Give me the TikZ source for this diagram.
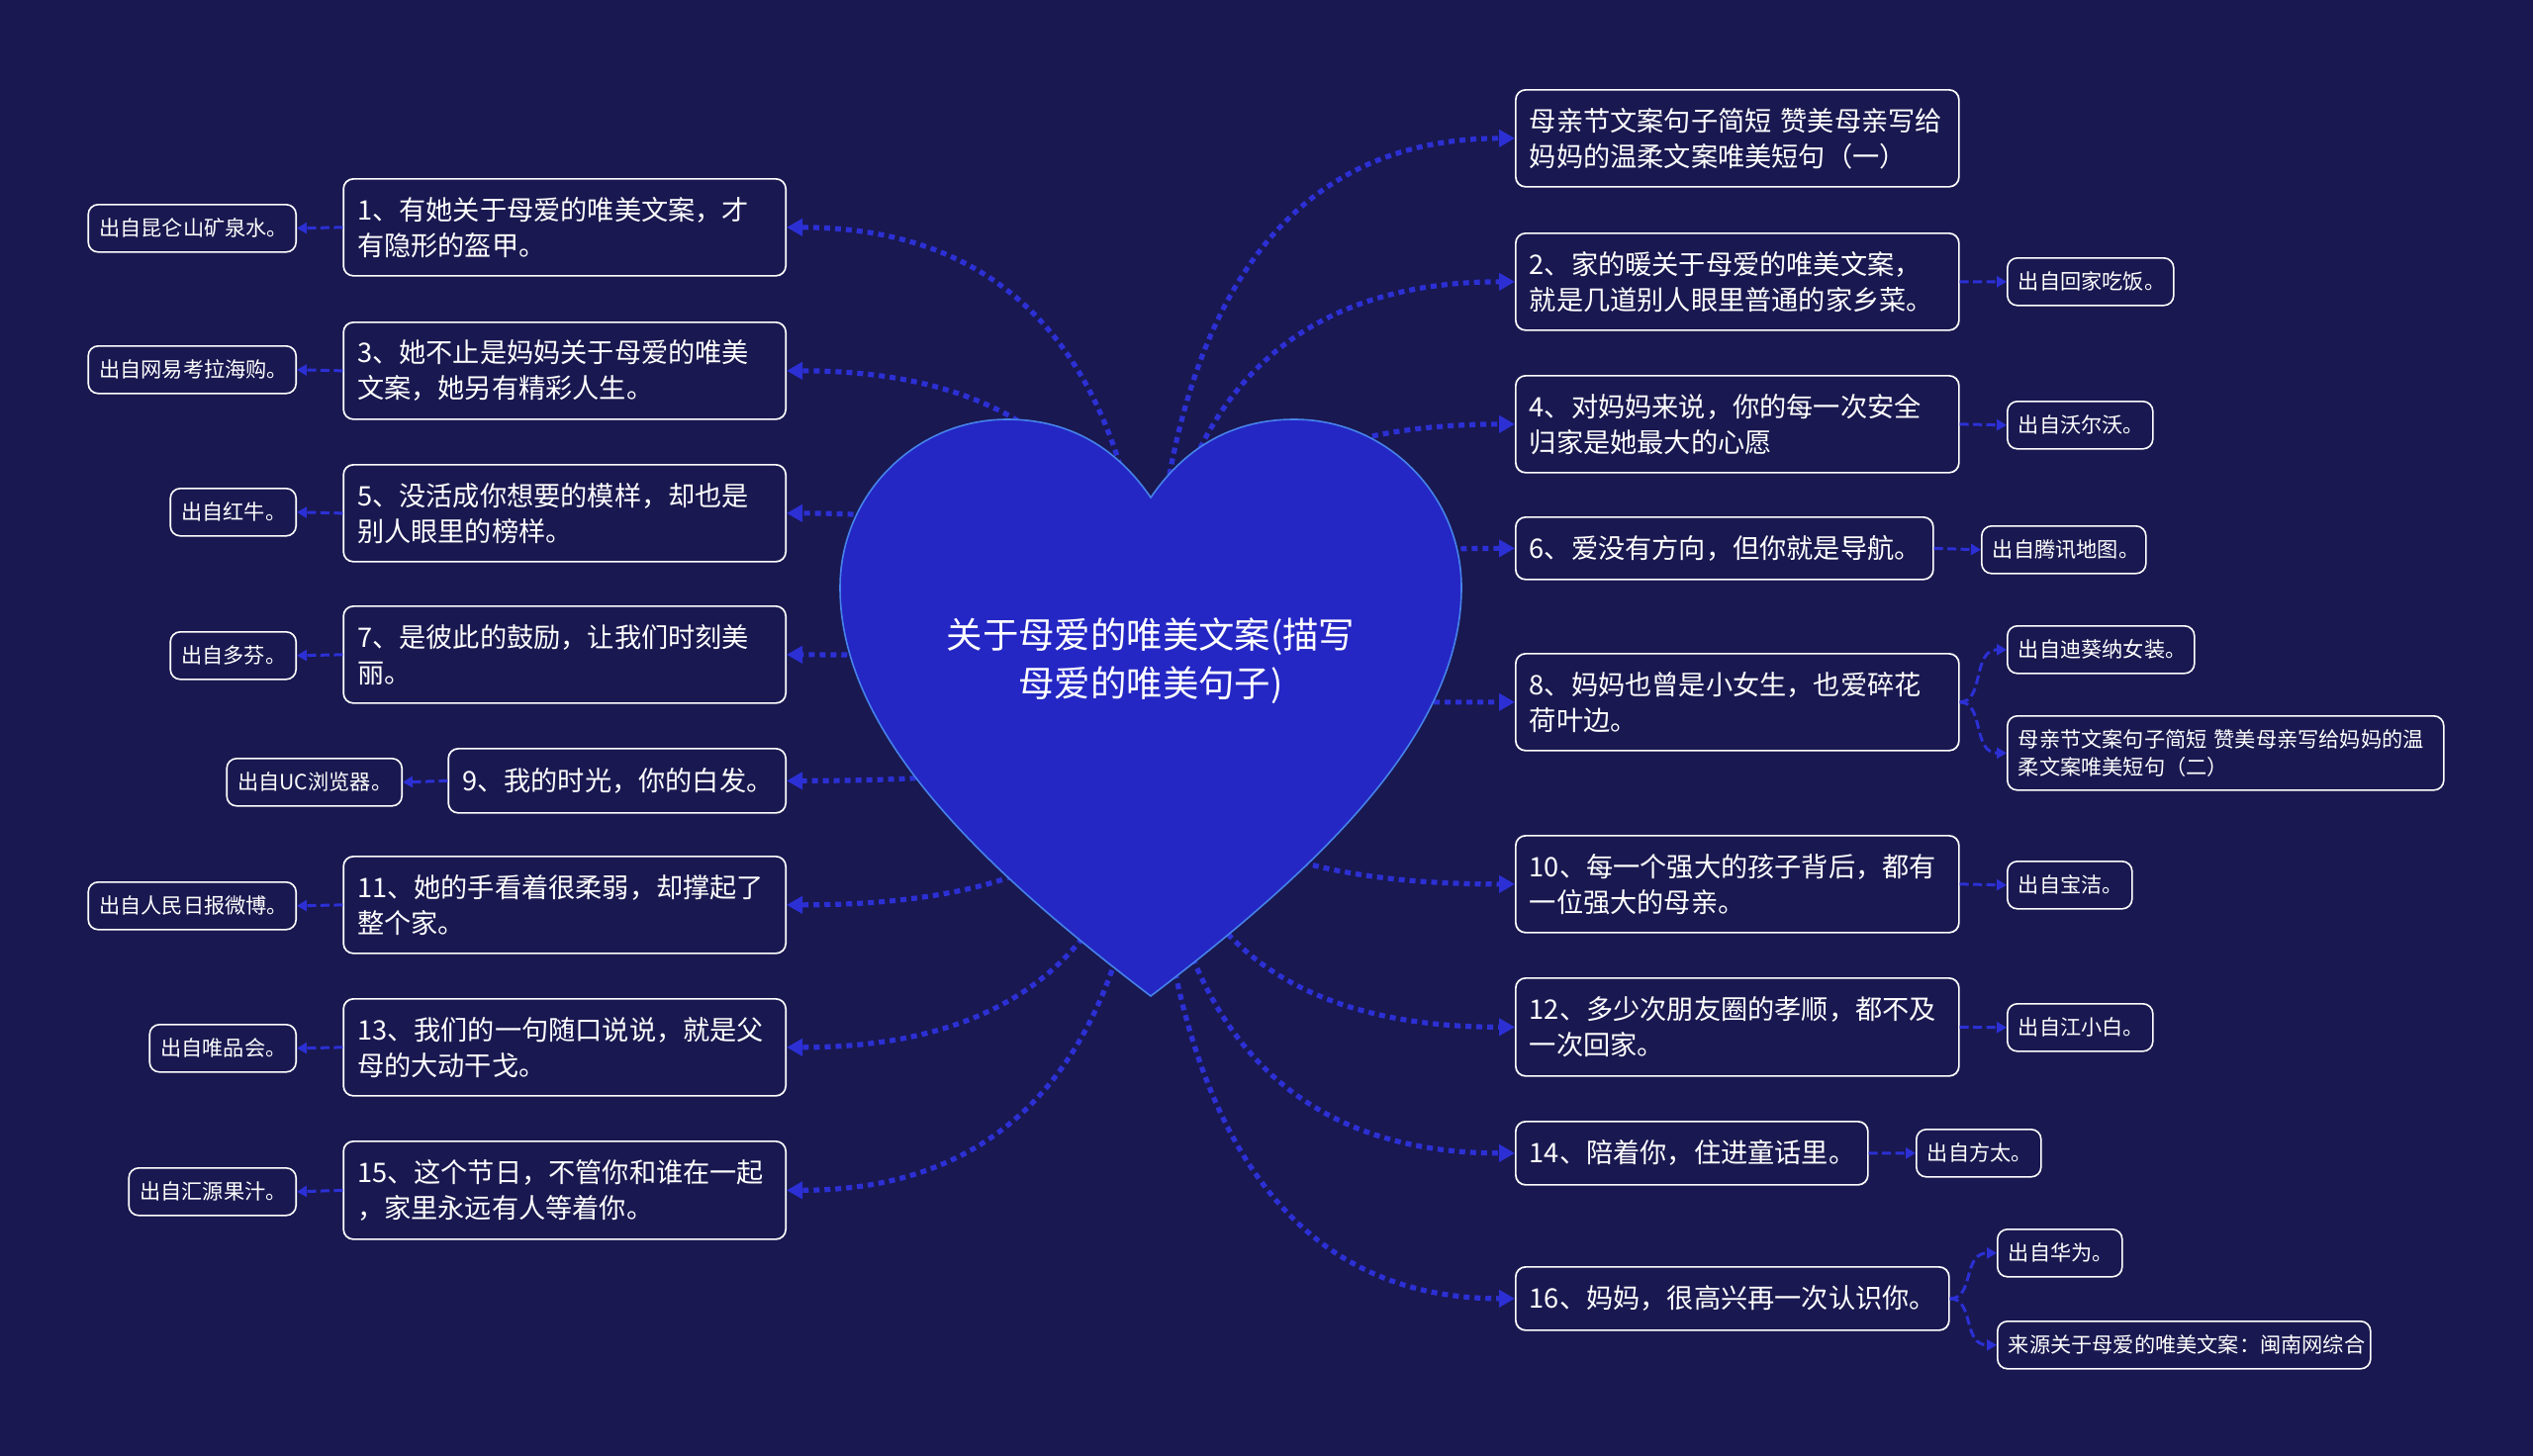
\documentclass[tikz,border=0pt]{standalone}
\usepackage{fontspec}
\newfontfamily\cjk{Noto Sans CJK SC}
\usetikzlibrary{calc,arrows.meta}
\definecolor{bgc}{RGB}{25,24,80}
\definecolor{heartc}{RGB}{36,39,196}
\definecolor{heartedge}{RGB}{70,130,235}
\definecolor{linkc}{RGB}{44,48,212}
\tikzset{
 mainbox/.style={draw=white, line width=0.85pt, rounded corners=5pt, fill=bgc, text=white,
   font=\cjk\fontsize{13.6pt}{18pt}\selectfont, align=left, inner xsep=7pt, inner ysep=0pt, minimum height=49pt},
 onebox/.style={mainbox, minimum height=32pt},
 srcbox/.style={draw=white, line width=0.8pt, rounded corners=5pt, fill=bgc, text=white,
   font=\cjk\fontsize{10.6pt}{14pt}\selectfont, align=left, inner xsep=5.5pt, inner ysep=0pt, minimum height=24pt},
 mainlink/.style={draw=linkc, line width=2.6pt, dash pattern=on 3pt off 2.5pt, -{Triangle[length=8pt,width=8.5pt]}},
 srclink/.style={draw=linkc, line width=1.5pt, dash pattern=on 4.5pt off 2.2pt, -{Triangle[length=5pt,width=5.5pt]}},
 roottext/.style={text=white, font=\cjk\fontsize{18.2pt}{24.5pt}\selectfont, align=center, inner sep=0pt}
}
\newcommand\heartlink[2]{%
  \coordinate (#2) at (hc |- #1);
  \draw[mainlink] (hc) .. controls ($(hc)!0.6667!(#2)$) and ($(#1)!0.6667!(#2)$) .. (#1);}
\begin{document}
\begin{tikzpicture}[x=0.5pt,y=-0.5pt]
\fill[bgc] (0,0) rectangle (2560,1472);
\useasboundingbox (0,0) rectangle (2560,1472);
\coordinate (hc) at (1163,710);

% left main boxes
\node[mainbox, text width=209.5pt, anchor=north east] (L1) at (795,180) {1、有她关于母爱的唯美文案，才\\有隐形的盔甲。};
\node[mainbox, text width=209.5pt, anchor=north east] (L3) at (795,325) {3、她不止是妈妈关于母爱的唯美\\文案，她另有精彩人生。};
\node[mainbox, text width=209.5pt, anchor=north east] (L5) at (795,469) {5、没活成你想要的模样，却也是\\别人眼里的榜样。};
\node[mainbox, text width=209.5pt, anchor=north east] (L7) at (795,612) {7、是彼此的鼓励，让我们时刻美\\丽。};
\node[onebox, text width=156.5pt, anchor=north east, minimum height=32.5pt] (L9) at (795,756) {9、我的时光，你的白发。};
\node[mainbox, text width=209.5pt, anchor=north east] (L11) at (795,865) {11、她的手看着很柔弱，却撑起了\\整个家。};
\node[mainbox, text width=209.5pt, anchor=north east] (L13) at (795,1009) {13、我们的一句随口说说，就是父\\母的大动干戈。};
\node[mainbox, text width=209.5pt, anchor=north east, minimum height=49.5pt] (L15) at (795,1153) {15、这个节日，不管你和谁在一起\\，家里永远有人等着你。};

% right main boxes
\node[mainbox, text width=210pt, anchor=north west] (R1) at (1531,90) {母亲节文案句子简短 赞美母亲写给\\妈妈的温柔文案唯美短句（一）};
\node[mainbox, text width=210pt, anchor=north west] (R2) at (1531,235) {2、家的暖关于母爱的唯美文案，\\就是几道别人眼里普通的家乡菜。};
\node[mainbox, text width=210pt, anchor=north west] (R4) at (1531,379) {4、对妈妈来说，你的每一次安全\\归家是她最大的心愿};
\node[onebox, text width=197pt, anchor=north west, minimum height=31.5pt] (R6) at (1531,522) {6、爱没有方向，但你就是导航。};
\node[mainbox, text width=210pt, anchor=north west] (R8) at (1531,660) {8、妈妈也曾是小女生，也爱碎花\\荷叶边。};
\node[mainbox, text width=210pt, anchor=north west] (R10) at (1531,844) {10、每一个强大的孩子背后，都有\\一位强大的母亲。};
\node[mainbox, text width=210pt, anchor=north west, minimum height=49.5pt] (R12) at (1531,988) {12、多少次朋友圈的孝顺，都不及\\一次回家。};
\node[onebox, text width=164pt, anchor=north west] (R14) at (1531,1133) {14、陪着你，住进童话里。};
\node[onebox, text width=205pt, anchor=north west] (R16) at (1531,1280) {16、妈妈，很高兴再一次认识你。};

% left source boxes
\node[srcbox, text width=94pt, anchor=north east] (SL1) at (300,206) {出自昆仑山矿泉水。};
\node[srcbox, text width=94pt, anchor=north east] (SL3) at (300,349) {出自网易考拉海购。};
\node[srcbox, text width=52.5pt, anchor=north east] (SL5) at (300,493) {出自红牛。};
\node[srcbox, text width=52.5pt, anchor=north east] (SL7) at (300,638) {出自多芬。};
\node[srcbox, text width=77.5pt, anchor=north east] (SL9) at (407,766) {出自UC浏览器。};
\node[srcbox, text width=94pt, anchor=north east] (SL11) at (300,891) {出自人民日报微博。};
\node[srcbox, text width=63pt, anchor=north east] (SL13) at (300,1035) {出自唯品会。};
\node[srcbox, text width=73.5pt, anchor=north east] (SL15) at (300,1180) {出自汇源果汁。};

% right source boxes
\node[srcbox, text width=73pt, anchor=north west] (SR2) at (2028,260) {出自回家吃饭。};
\node[srcbox, text width=62.5pt, anchor=north west] (SR4) at (2028,405) {出自沃尔沃。};
\node[srcbox, text width=72pt, anchor=north west] (SR6) at (2002,531) {出自腾讯地图。};
\node[srcbox, text width=83.5pt, anchor=north west] (SR8a) at (2028,632) {出自迪葵纳女装。};
\node[srcbox, text width=209.5pt, anchor=north west, minimum height=37.5pt] (SR8b) at (2028,723) {母亲节文案句子简短 赞美母亲写给妈妈的温\\柔文案唯美短句（二）};
\node[srcbox, text width=52pt, anchor=north west] (SR10) at (2028,870) {出自宝洁。};
\node[srcbox, text width=62.5pt, anchor=north west] (SR12) at (2028,1014) {出自江小白。};
\node[srcbox, text width=52pt, anchor=north west] (SR14) at (1936,1141) {出自方太。};
\node[srcbox, text width=52pt, anchor=north west] (SR16a) at (2018,1242) {出自华为。};
\node[srcbox, text width=177.5pt, anchor=north west] (SR16b) at (2018,1335) {来源关于母爱的唯美文案：闽南网综合};

% source links
\draw[srclink] (L1.west) -- (SL1.east);
\draw[srclink] (L3.west) -- (SL3.east);
\draw[srclink] (L5.west) -- (SL5.east);
\draw[srclink] (L7.west) -- (SL7.east);
\draw[srclink] (L9.west) -- (SL9.east);
\draw[srclink] (L11.west) -- (SL11.east);
\draw[srclink] (L13.west) -- (SL13.east);
\draw[srclink] (L15.west) -- (SL15.east);
\draw[srclink] (R2.east) -- (SR2.west);
\draw[srclink] (R4.east) -- (SR4.west);
\draw[srclink] (R6.east) -- (SR6.west);
\draw[srclink] (R10.east) -- (SR10.west);
\draw[srclink] (R12.east) -- (SR12.west);
\draw[srclink] (R14.east) -- (SR14.west);
\draw[srclink] (R8.east) .. controls +(25,0) and ($(SR8a.west)+(-35,0)$) .. (SR8a.west);
\draw[srclink] (R8.east) .. controls +(25,0) and ($(SR8b.west)+(-35,0)$) .. (SR8b.west);
\draw[srclink] (R16.east) .. controls +(25,0) and ($(SR16a.west)+(-35,0)$) .. (SR16a.west);
\draw[srclink] (R16.east) .. controls +(25,0) and ($(SR16b.west)+(-35,0)$) .. (SR16b.west);

% heart links
\heartlink{L1.east}{k1}
\heartlink{L3.east}{k3}
\heartlink{L5.east}{k5}
\heartlink{L7.east}{k7}
\heartlink{L9.east}{k9}
\heartlink{L11.east}{k11}
\heartlink{L13.east}{k13}
\heartlink{L15.east}{k15}
\heartlink{R1.west}{q1}
\heartlink{R2.west}{q2}
\heartlink{R4.west}{q4}
\heartlink{R6.west}{q6}
\heartlink{R8.west}{q8}
\heartlink{R10.west}{q10}
\heartlink{R12.west}{q12}
\heartlink{R14.west}{q14}
\heartlink{R16.west}{q16}

% heart
\draw[fill=heartc, draw=heartedge, line width=0.8pt]
 (1163,503) .. controls (1135,462) and (1090,424) .. (1018,424)
 .. controls (925,424) and (849,500) .. (849,594)
 .. controls (849,740) and (990,875) .. (1163,1007)
 .. controls (1336,875) and (1477,740) .. (1477,594)
 .. controls (1477,500) and (1401,424) .. (1308,424)
 .. controls (1236,424) and (1191,462) .. cycle;
\node[roottext] (root) at (1163,668) {关于母爱的唯美文案(描写\\母爱的唯美句子)};
\end{tikzpicture}
\end{document}
